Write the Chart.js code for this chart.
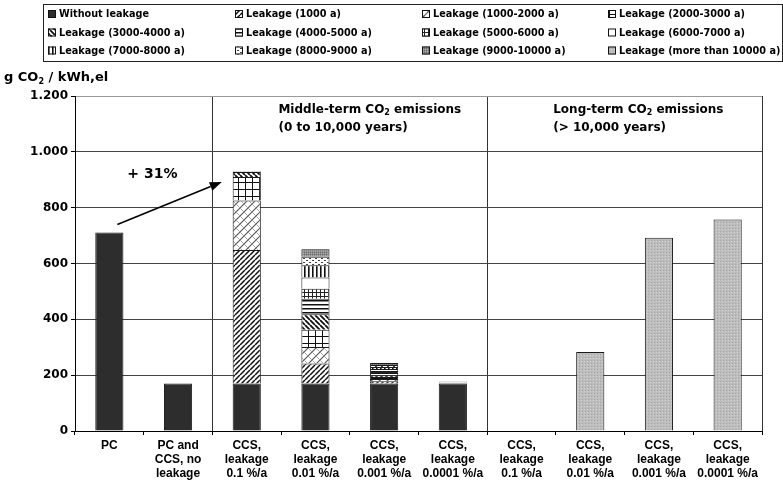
<!DOCTYPE html>
<html>
<head>
<meta charset="utf-8">
<script src="https://cdn.jsdelivr.net/npm/chart.js@4.4.1/dist/chart.umd.min.js"></script>
<style>
  html, body { margin: 0; padding: 0; background: #fff; }
  #wrap { width: 783px; height: 486px; }
</style>
</head>
<body>
<div id="wrap"><canvas id="c" width="783" height="486"></canvas></div>
<script>
// ---- data -------------------------------------------------------------
const categoryLabels = [
  ['PC'],
  ['PC and', 'CCS, no', 'leakage'],
  ['CCS,', 'leakage', '0.1 %/a'],
  ['CCS,', 'leakage', '0.01 %/a'],
  ['CCS,', 'leakage', '0.001 %/a'],
  ['CCS,', 'leakage', '0.0001 %/a'],
  ['CCS,', 'leakage', '0.1 %/a'],
  ['CCS,', 'leakage', '0.01 %/a'],
  ['CCS,', 'leakage', '0.001 %/a'],
  ['CCS,', 'leakage', '0.0001 %/a']
];

const yTickValues = [0, 200, 400, 600, 800, 1000, 1200];
const yTickLabels = ['0', '200', '400', '600', '800', '1.000', '1.200'];

const seriesNames = [
  'Without leakage', 'Leakage (1000 a)', 'Leakage (1000-2000 a)', 'Leakage (2000-3000 a)',
  'Leakage (3000-4000 a)', 'Leakage (4000-5000 a)', 'Leakage (5000-6000 a)', 'Leakage (6000-7000 a)',
  'Leakage (7000-8000 a)', 'Leakage (8000-9000 a)', 'Leakage (9000-10000 a)', 'Leakage (more than 10000 a)'
];

// g CO2 / kWh,el per category
const withoutLeakage = [711, 170, 170, 170, 170, 170, 0, 0, 0, 0];
const leak1000       = [0, 0, 478, 72, 8, 0.8, 0, 0, 0, 0];
const leak1000_2000  = [0, 0, 178, 59, 8, 0.8, 0, 0, 0, 0];
const leak2000_3000  = [0, 0, 84, 62, 7, 0.8, 0, 0, 0, 0];
const leak3000_4000  = [0, 0, 18, 55, 7, 0.8, 0, 0, 0, 0];
const leak4000_5000  = [0, 0, 1, 56, 8, 0.8, 0, 0, 0, 0];
const leak5000_6000  = [0, 0, 1, 36, 7, 0.8, 0, 0, 0, 0];
const leak6000_7000  = [0, 0, 0, 40, 7, 0.7, 0, 0, 0, 0];
const leak7000_8000  = [0, 0, 0, 44, 7, 0.7, 0, 0, 0, 0];
const leak8000_9000  = [0, 0, 0, 30, 7, 0.7, 0, 0, 0, 0];
const leak9000_10000 = [0, 0, 1, 27, 8, 0.7, 0, 0, 0, 0];
const leakOver10000  = [0, 0, 0, 0, 0, 0, 0, 283, 692, 758];

const seriesValues = [
  withoutLeakage, leak1000, leak1000_2000, leak2000_3000, leak3000_4000, leak4000_5000,
  leak5000_6000, leak6000_7000, leak7000_8000, leak8000_9000, leak9000_10000, leakOver10000
];

const increaseLabel = '+ 31%';
const regionTitles = [
  { parts: [['Middle-term CO'], ['2', 'sub'], [' emissions']], second: '(0 to 10,000 years)' },
  { parts: [['Long-term CO'], ['2', 'sub'], [' emissions']], second: '(> 10,000 years)' }
];
const yTitleParts = [['g CO'], ['2', 'sub'], [' / kWh,el']];

// ---- fill patterns ----------------------------------------------------
const mainCtx = document.getElementById('c').getContext('2d');
function tile(w, h, bg, draw) {
  const cv = document.createElement('canvas');
  cv.width = w; cv.height = h;
  const g = cv.getContext('2d');
  g.fillStyle = bg; g.fillRect(0, 0, w, h);
  g.fillStyle = '#000'; g.strokeStyle = '#000';
  draw(g, w, h);
  return mainCtx.createPattern(cv, 'repeat');
}
function diag(g, s, up, lw, col) {
  g.strokeStyle = col; g.lineWidth = lw; g.beginPath();
  for (let k = -1; k <= 1; k++) {
    if (up) { g.moveTo(k * s, s); g.lineTo(k * s + s, 0); }
    else { g.moveTo(k * s, 0); g.lineTo(k * s + s, s); }
  }
  g.stroke();
}
const fills = [
  '#2d2d2d',
  tile(5, 5, '#fff', (g) => diag(g, 5, true, 1.5, '#111')),
  tile(8, 8, '#fff', (g) => { diag(g, 8, true, 1.1, '#555'); diag(g, 8, false, 1, '#aaa'); }),
  tile(7, 7, '#fff', (g) => { g.fillStyle = '#111'; g.fillRect(0, 0, 7, 1); g.fillRect(0, 0, 1, 7); }),
  tile(5, 5, '#fff', (g) => diag(g, 5, false, 1.8, '#111')),
  tile(4, 4, '#fff', (g) => { g.fillStyle = '#111'; g.fillRect(0, 0, 4, 1.5); }),
  tile(4, 4, '#fff', (g) => { g.fillStyle = '#222'; g.fillRect(0, 0, 4, 1); g.fillRect(0, 0, 1, 4); }),
  '#ffffff',
  tile(4, 4, '#fff', (g) => { g.fillStyle = '#111'; g.fillRect(0, 0, 1.6, 4); }),
  tile(6, 4, '#fff', (g) => { g.fillStyle = '#444'; g.fillRect(0, 0, 2, 1); g.fillRect(3, 2, 2, 1); }),
  tile(2, 2, '#8c8c8c', (g) => { g.fillStyle = '#6c6c6c'; g.fillRect(0, 0, 1, 1); g.fillStyle = '#adadad'; g.fillRect(1, 1, 1, 1); }),
  tile(3, 3, '#bdbdbd', (g) => { g.fillStyle = '#a6a6a6'; g.fillRect(0, 0, 1, 1); g.fillStyle = '#d0d0d0'; g.fillRect(2, 1, 1, 1); })
];

// ---- text helpers -----------------------------------------------------
const BOLD_WIDE = 'bold {s}px "DejaVu Sans", sans-serif';
const fontOf = (s) => BOLD_WIDE.replace('{s}', s);
function drawRich(ctx, parts, x, y, size) {
  ctx.textBaseline = 'middle';
  ctx.textAlign = 'left';
  let cx = x;
  for (const [t, kind] of parts) {
    const sub = kind === 'sub';
    ctx.font = fontOf(sub ? Math.round(size * 0.65) : size);
    ctx.fillText(t, cx, sub ? y + size * 0.28 : y);
    cx += ctx.measureText(t).width;
  }
}

// ---- annotations, legend, titles --------------------------------------
const decorPlugin = {
  id: 'decor',
  afterDraw(chart) {
    const ctx = chart.ctx;
    const { top } = chart.chartArea;
    const xs = chart.scales.x, ys = chart.scales.y;
    const step = xs.getPixelForValue(1) - xs.getPixelForValue(0);
    ctx.save();
    ctx.fillStyle = '#000';

    // legend box
    ctx.strokeStyle = '#222'; ctx.lineWidth = 1;
    ctx.strokeRect(43.5, 4.5, 739, 57);
    const colX = [48, 235, 422, 608];
    const rowY = [14, 32.5, 50.5];
    chart.data.datasets.forEach((ds, i) => {
      const x = colX[i % 4], y = rowY[Math.floor(i / 4)];
      ctx.fillStyle = ds.backgroundColor;
      ctx.fillRect(x, y - 4, 8, 8);
      ctx.strokeStyle = '#111';
      ctx.strokeRect(x + 0.5, y - 3.5, 7, 7);
      ctx.fillStyle = '#000';
      ctx.font = fontOf(9.7);
      ctx.textBaseline = 'middle'; ctx.textAlign = 'left';
      ctx.fillText(ds.label, x + 11, y + 0.5);
    });

    // y axis title
    ctx.fillStyle = '#000';
    drawRich(ctx, yTitleParts, 4, top - 18, 13);

    // region titles, placed right of the region dividers
    const div1 = xs.getPixelForValue(2) - step / 2;
    const div2 = xs.getPixelForValue(6) - step / 2;
    [div1, div2].forEach((dx, i) => {
      const rt = regionTitles[i];
      drawRich(ctx, rt.parts, dx + 66, top + 14, 12);
      ctx.font = fontOf(12);
      ctx.fillText(rt.second, dx + 66, top + 32);
    });

    // increase arrow from the PC bar towards the 0.1 %/a bar
    const x0 = xs.getPixelForValue(0) + 8, y0 = ys.getPixelForValue(withoutLeakage[0]) - 8;
    const x1 = xs.getPixelForValue(2) - 25, y1 = ys.getPixelForValue(892);
    ctx.strokeStyle = '#000'; ctx.lineWidth = 1.5;
    const ang = Math.atan2(y1 - y0, x1 - x0);
    const hl = 12, hw = 4.5;
    const bx = x1 - hl * Math.cos(ang), by = y1 - hl * Math.sin(ang);
    ctx.beginPath(); ctx.moveTo(x0, y0); ctx.lineTo(bx, by); ctx.stroke();
    ctx.beginPath();
    ctx.moveTo(x1, y1);
    ctx.lineTo(bx + hw * Math.sin(ang), by - hw * Math.cos(ang));
    ctx.lineTo(bx - hw * Math.sin(ang), by + hw * Math.cos(ang));
    ctx.closePath(); ctx.fillStyle = '#000'; ctx.fill();

    ctx.font = fontOf(14);
    ctx.textAlign = 'center'; ctx.textBaseline = 'middle';
    ctx.fillText(increaseLabel, x0 + 35, y1 - 8);
    ctx.restore();
  }
};

// ---- chart ------------------------------------------------------------
const datasets = seriesNames.map((name, i) => ({
  label: name,
  data: seriesValues[i],
  backgroundColor: fills[i],
  borderColor: '#1a1a1a',
  borderWidth: 1,
  stack: 'all'
}));

new Chart(document.getElementById('c'), {
  type: 'bar',
  data: { labels: categoryLabels, datasets },
  plugins: [decorPlugin],
  options: {
    responsive: false,
    animation: false,
    layout: { padding: { top: 96, right: 21, left: 0, bottom: 0 } },
    datasets: { bar: { categoryPercentage: 1, barPercentage: 0.41 } },
    plugins: { legend: { display: false }, tooltip: { enabled: false } },
    scales: {
      x: {
        stacked: true,
        offset: true,
        grid: {
          offset: true,
          drawOnChartArea: true,
          color: (c) => (c.index === 2 || c.index === 6 || c.index === undefined) ? '#333' : 'rgba(0,0,0,0)',
          tickColor: '#000',
          tickLength: 4,
          lineWidth: 1
        },
        border: { color: '#000', width: 1 },
        ticks: {
          autoSkip: false, maxRotation: 0, padding: 3, color: '#000',
          font: { family: '"Liberation Sans", Arial, sans-serif', size: 12, weight: 'bold', lineHeight: 1.2 }
        },
        afterFit: (s) => { s.height = 55; }
      },
      y: {
        stacked: true,
        min: 0, max: 1200,
        afterBuildTicks: (s) => { s.ticks = yTickValues.map((v) => ({ value: v })); },
        ticks: {
          padding: 3, color: '#000',
          callback: (v) => yTickLabels[yTickValues.indexOf(v)],
          font: { family: '"DejaVu Sans", sans-serif', size: 12, weight: 'bold' }
        },
        grid: {
          color: (c) => (c.tick && c.tick.value === 1200) ? '#999' : '#444',
          tickColor: '#000', tickLength: 4, lineWidth: 1
        },
        border: { color: '#000', width: 1 },
        afterFit: (s) => { s.width = 75; }
      }
    }
  }
});
</script>
</body>
</html>
